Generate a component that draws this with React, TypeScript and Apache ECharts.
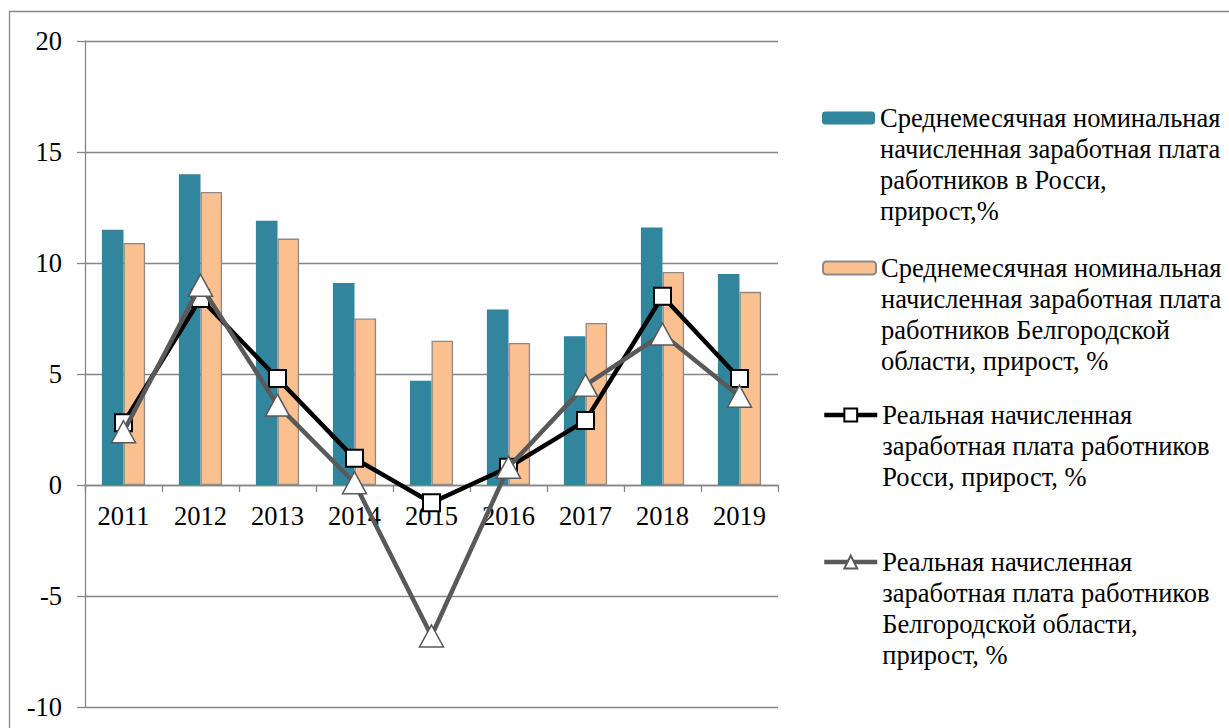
import React, { useEffect, useRef } from "react";
import * as echarts from "echarts";

const years = ["2011", "2012", "2013", "2014", "2015", "2016", "2017", "2018", "2019"];
const nominalRussia = [11.5, 14.0, 11.9, 9.1, 4.7, 7.9, 6.7, 11.6, 9.5];
const nominalBelgorod = [10.9, 13.2, 11.1, 7.5, 6.5, 6.4, 7.3, 9.6, 8.7];
const realRussia = [2.8, 8.4, 4.8, 1.2, -0.8, 0.8, 2.9, 8.5, 4.8];
const realBelgorod = [2.4, 9.0, 3.6, 0.1, -6.8, 0.8, 4.5, 6.8, 4.0];
const yMin = -10;
const yMax = 20;
const yStep = 5;

const names = [
  "Среднемесячная номинальная начисленная заработная плата работников в Росси, прирост,%",
  "Среднемесячная номинальная начисленная заработная плата работников Белгородской области, прирост, %",
  "Реальная начисленная заработная плата работников Росси, прирост, %",
  "Реальная начисленная заработная плата работников Белгородской области, прирост, %",
];
const wrapped = [
  ["Среднемесячная номинальная", "начисленная заработная плата", "работников в Росси,", "прирост,%"],
  ["Среднемесячная номинальная", "начисленная заработная плата", "работников Белгородской", "области, прирост, %"],
  ["Реальная начисленная", "заработная плата работников", "Росси, прирост, %"],
  ["Реальная начисленная", "заработная плата работников", "Белгородской области,", "прирост, %"],
];
const legendFirstLineY = [118, 268, 415, 562];

const FONT = "Liberation Serif, DejaVu Serif, serif";
const FS = 26.5;
const LH = 31;
const GRID_TOP = 41;
const GRID_BOTTOM = 21;
const H = 728;

export default function App() {
  const ref = useRef<HTMLDivElement>(null);
  useEffect(() => {
    document.body.style.margin = "0";
    const chart = echarts.init(ref.current!, null, { renderer: "svg" });
    const plotH = H - GRID_TOP - GRID_BOTTOM;
    const zeroOffset = (plotH * (0 - yMin)) / (yMax - yMin);
    const legends = names.map((n, i) => {
      const lines = wrapped[i].length;
      const isLine = i >= 2;
      const text = "\n".repeat(lines - 1) + wrapped[i].join("\n");
      return {
        data: [n],
        orient: "vertical",
        left: 817,
        top: legendFirstLineY[i] - ((2 * lines - 1) * LH) / 2 - 5,
        itemWidth: 53,
        itemHeight: isLine ? 16 : 13,
        selectedMode: false,
        formatter: () => text,
        lineStyle: { width: 4.5 },
        textStyle: {
          fontFamily: FONT,
          fontSize: FS,
          color: "#000",
          lineHeight: LH,
        },
      };
    });
    chart.setOption({
      animation: false,
      backgroundColor: "#fff",
      textStyle: { fontFamily: FONT },
      graphic: [
        {
          type: "rect",
          shape: { x: 9.5, y: 11.5, width: 1240, height: 760 },
          style: { fill: "none", stroke: "#868686", lineWidth: 1.3 },
          silent: true,
        },
      ],
      grid: { left: 85, right: 451, top: GRID_TOP, bottom: GRID_BOTTOM, containLabel: false },
      legend: legends,
      xAxis: {
        type: "category",
        data: years,
        offset: -zeroOffset,
        axisLine: { onZero: false, lineStyle: { color: "#868686", width: 1.3 } },
        axisTick: { show: true, length: 7, lineStyle: { color: "#868686", width: 1.3 } },
        axisLabel: { fontFamily: FONT, fontSize: FS, color: "#000", margin: 17 },
      },
      yAxis: {
        type: "value",
        min: yMin,
        max: yMax,
        interval: yStep,
        axisLine: { show: true, lineStyle: { color: "#868686", width: 1.3 } },
        axisTick: { show: true, length: 8, lineStyle: { color: "#868686", width: 1.3 } },
        splitLine: { show: true, lineStyle: { color: "#868686", width: 1.3 } },
        axisLabel: { fontFamily: FONT, fontSize: FS, color: "#000", margin: 23 },
      },
      series: [
        {
          name: names[0],
          type: "bar",
          data: nominalRussia,
          barWidth: 21.6,
          barGap: "0%",
          itemStyle: { color: "#31859C" },
        },
        {
          name: names[1],
          type: "bar",
          data: nominalBelgorod,
          barWidth: 21.6,
          barGap: "0%",
          itemStyle: { color: "#FAC090", borderColor: "#8A8A8A", borderWidth: 1.3 },
        },
        {
          name: names[2],
          type: "line",
          data: realRussia,
          symbol: "rect",
          symbolSize: 17,
          lineStyle: { color: "#000", width: 4.5 },
          itemStyle: { color: "#fff", borderColor: "#000", borderWidth: 2 },
          z: 3,
        },
        {
          name: names[3],
          type: "line",
          data: realBelgorod,
          symbol: "triangle",
          symbolSize: [24, 22],
          lineStyle: { color: "#595959", width: 4.5 },
          itemStyle: { color: "#fff", borderColor: "#595959", borderWidth: 1.5 },
          z: 4,
        },
      ],
    });
    return () => chart.dispose();
  }, []);
  return <div ref={ref} style={{ width: 1229, height: 728 }} />;
}
